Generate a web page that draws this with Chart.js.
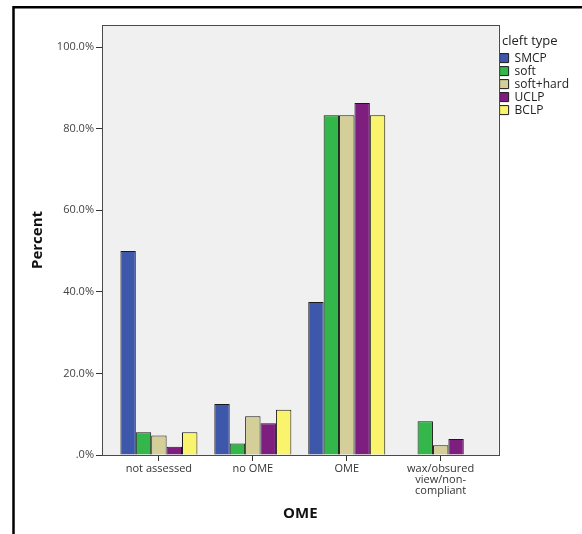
<!DOCTYPE html>
<html>
<head>
<meta charset="utf-8">
<script src="https://cdn.jsdelivr.net/npm/chart.js@4/dist/chart.umd.min.js"></script>
<style>
  html, body { margin: 0; padding: 0; background: #ffffff; }
  #wrap { position: relative; width: 582px; height: 534px; }
</style>
</head>
<body>
<div id="wrap"><canvas id="c" width="582" height="534"></canvas></div>
<script>
// ---- data ----
const categories = [
  ["not assessed"],
  ["no OME"],
  ["OME"],
  ["wax/obsured", "view/non-", "compliant"]
];
const seriesNames = ["SMCP", "soft", "soft+hard", "UCLP", "BCLP"];
const smcp      = [50.0, 12.5, 37.5, 0.0];
const soft      = [5.6, 2.8, 83.3, 8.3];
const softHard  = [4.8, 9.5, 83.3, 2.4];
const uclp      = [2.0, 7.8, 86.3, 3.9];
const bclp      = [5.6, 11.1, 83.3, 0.0];
const yTicks = [0, 20, 40, 60, 80, 100];
const yTickLabels = [".0%", "20.0%", "40.0%", "60.0%", "80.0%", "100.0%"];
const xTitle = "OME";
const yTitle = "Percent";
const legendTitle = "cleft type";

const seriesValues = [smcp, soft, softHard, uclp, bclp];
const seriesColors = ["#3D58AB", "#33B74A", "#D4CE98", "#7E1F80", "#FAF46C"];

const FONT = "'Open Sans', 'DejaVu Sans', sans-serif";

const frameAndBox = {
  id: "frameAndBox",
  beforeDraw(chart) {
    const ctx = chart.ctx;
    const a = chart.chartArea;
    ctx.save();
    ctx.strokeStyle = "#000";
    ctx.lineWidth = 2.5;
    ctx.beginPath();
    ctx.moveTo(13.5, 534);
    ctx.lineTo(13.5, 7.3);
    ctx.lineTo(582, 7.3);
    ctx.stroke();
    ctx.fillStyle = "#F0F0F0";
    ctx.fillRect(a.left, a.top, a.right - a.left, a.bottom - a.top);
    ctx.restore();
  },
  afterDatasetsDraw(chart) {
    const ctx = chart.ctx;
    const a = chart.chartArea;
    ctx.save();
    ctx.strokeStyle = "#4a4a4a";
    ctx.lineWidth = 1;
    ctx.strokeRect(Math.round(a.left) + 0.5, Math.round(a.top) + 0.5,
                   Math.round(a.right - a.left), Math.round(a.bottom - a.top));
    ctx.restore();
  }
};

const datasets = seriesNames.map((name, si) => ({
  label: name,
  data: seriesValues[si].map((v, i) => ({ x: i, y: v })),
  backgroundColor: seriesColors[si],
  borderColor: "#1a1a1a",
  borderWidth: 1,
  borderSkipped: "bottom",
  categoryPercentage: 0.82,
  barPercentage: 1.0
}));

const chart = new Chart(document.getElementById("c"), {
  type: "bar",
  data: { datasets },
  plugins: [frameAndBox],
  options: {
    responsive: false,
    animation: false,
    layout: { padding: { left: 0, right: 3, top: 25, bottom: 0 } },
    plugins: {
      tooltip: { enabled: false },
      legend: {
        position: "right",
        align: "start",
        title: {
          display: true,
          text: " " + legendTitle,
          position: "start",
          color: "#222",
          font: { family: FONT, size: 13 },
          padding: { top: 9.5, bottom: 1 }
        },
        labels: {
          boxWidth: 9,
          boxHeight: 9,
          padding: 1,
          color: "#222",
          font: { family: FONT, size: 12 }
        }
      }
    },
    scales: {
      x: {
        type: "linear",
        min: -0.606,
        max: 3.617,
        offset: false,
        afterFit(scale) { scale.height = 79; },
        afterBuildTicks(scale) { scale.ticks = categories.map((_, i) => ({ value: i })); },
        grid: { display: true, drawOnChartArea: false, offset: false, tickLength: 6, tickColor: "#333", lineWidth: 1 },
        border: { display: true, color: "#4a4a4a" },
        ticks: {
          autoSkip: false,
          maxRotation: 0,
          padding: 3,
          color: "#333",
          font: { family: FONT, size: 11, lineHeight: "10.7px" },
          callback: (v) => categories[v]
        },
        title: {
          display: true,
          text: xTitle,
          color: "#111",
          font: { family: FONT, size: 15, weight: "bold" },
          padding: { top: 4, bottom: 11 }
        }
      },
      y: {
        type: "linear",
        min: 0,
        max: 105.4,
        afterFit(scale) { scale.width = 102; },
        afterBuildTicks(scale) { scale.ticks = yTicks.map(v => ({ value: v })); },
        grid: { display: true, drawOnChartArea: false, tickLength: 6, tickColor: "#333" },
        border: { display: true, color: "#4a4a4a" },
        ticks: {
          padding: 2,
          color: "#444",
          font: { family: FONT, size: 11 },
          callback: (v) => yTickLabels[yTicks.indexOf(v)]
        },
        title: {
          display: true,
          text: yTitle,
          color: "#111",
          font: { family: FONT, size: 15, weight: "bold" },
          padding: { top: 29, bottom: 4 }
        }
      }
    }
  }
});
</script>
</body>
</html>
